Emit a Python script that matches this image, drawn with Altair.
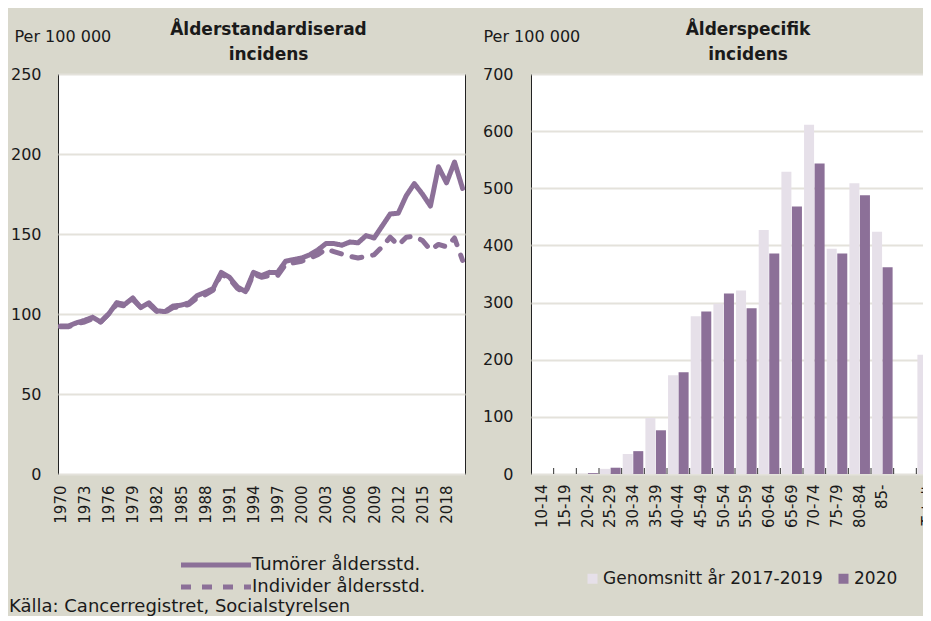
import altair as alt
import pandas as pd

# ---------------- data ----------------
years = list(range(1970, 2021))
tumorer = [92.5, 92.5, 94.5, 96, 98, 95, 100, 107, 106, 110,
           104, 107, 102, 101.5, 105, 105.5, 107, 111.5, 113.5, 116,
           126, 123, 117, 114, 126, 124, 126, 126, 133, 134,
           135, 137, 140, 144, 144, 143, 145, 144.5, 149, 147.5,
           155, 162.5, 163, 174, 181.5, 175, 167.5, 192, 182, 195,
           178.5]
individer = [92, 92, 94, 95, 97, 95, 100, 106, 105, 109,
             104, 106, 101.5, 101, 104, 104.5, 106, 110, 112, 115,
             125, 122, 116, 113, 125, 123, 124, 124, 131, 132,
             133, 135, 137, 140.5, 139, 137.5, 136, 135, 136, 137,
             142, 148, 143, 148, 148.5, 146, 140, 143.5, 142, 147.5,
             133.5]
year_labels = [1970, 1973, 1976, 1979, 1982, 1985, 1988, 1991, 1994, 1997,
               2000, 2003, 2006, 2009, 2012, 2015, 2018]
series_names = ["Tumörer åldersstd.", "Individer åldersstd."]

ages = ["10-14", "15-19", "20-24", "25-29", "30-34", "35-39", "40-44", "45-49",
        "50-54", "55-59", "60-64", "65-69", "70-74", "75-79", "80-84", "85-",
        " ", "Totalt"]
genomsnitt = [0, 0, 0.5, 9, 35, 98, 173, 276, 298, 321, 427, 529, 611, 394,
              509, 424, None, 208.5]
ar2020 = [0, 0, 1.5, 11, 40, 76.5, 178, 284.5, 316, 290, 386, 468, 543.5, 386,
          488, 362, None, 195]
period_names = ["Genomsnitt år 2017-2019", "2020"]

# ---------------- styling ----------------
FONT = "DejaVu Sans"
BG = "#D9D8CC"
PURPLE = "#8C7098"
LIGHT = "#E6E0E9"
GRID = "#E4E2DB"
TXT = "#1a1a1a"

# ---------------- left chart ----------------
rows = []
for y, t, i in zip(years, tumorer, individer):
    rows.append({"År": y, "Serie": series_names[0], "Värde": t})
    rows.append({"År": y, "Serie": series_names[1], "Värde": i})
df_left = pd.DataFrame(rows)

left = alt.Chart(df_left).mark_line(strokeWidth=5, color=PURPLE, strokeCap="round",
                                    strokeJoin="round").encode(
    x=alt.X("År:O", scale=alt.Scale(type="point", padding=0.3),
            axis=alt.Axis(values=year_labels, labelAngle=-90, title=None, ticks=False,
                          domain=False, labelPadding=11, labelFontSize=15,
                          labelColor=TXT, labelFont=FONT)),
    y=alt.Y("Värde:Q", scale=alt.Scale(domain=[0, 250]),
            axis=alt.Axis(values=[0, 50, 100, 150, 200, 250], title="Per 100 000",
                          titleAngle=0, titleAlign="left", titleBaseline="middle",
                          titleX=-44, titleY=-38, titleFontWeight="normal",
                          titleFontSize=16, titleFont=FONT, titleColor=TXT,
                          grid=True, gridColor=GRID, gridWidth=2, ticks=False,
                          domain=False, labelPadding=17, labelFontSize=16,
                          labelColor=TXT, labelFont=FONT)),
    strokeDash=alt.StrokeDash("Serie:N",
                              scale=alt.Scale(domain=series_names, range=[[1, 0], [10, 11]]),
                              legend=alt.Legend(orient="none", legendX=149, legendY=482,
                                                title=None, symbolType="M-7,0L7,0",
                                                symbolSize=100, symbolStrokeWidth=5,
                                                symbolStrokeColor=PURPLE,
                                                labelFontSize=18, labelFont=FONT,
                                                labelColor=TXT, rowPadding=2,
                                                labelOffset=27, labelLimit=300)),
).properties(
    width=407, height=400,
    title=alt.TitleParams(["Ålderstandardiserad", "incidens"], fontSize=17,
                          fontWeight="bold", font=FONT, color=TXT, lineHeight=25,
                          anchor="middle", frame="group", dx=7, dy=40),
)

# ---------------- right chart ----------------
brow = []
for a, g, v in zip(ages, genomsnitt, ar2020):
    if g is not None:
        brow.append({"Ålder": a, "Period": period_names[0], "Värde": g})
    if v is not None:
        brow.append({"Ålder": a, "Period": period_names[1], "Värde": v})
df_right = pd.DataFrame(brow)
df_ticks = pd.DataFrame({"Ålder": ages[1:]})

xscale = alt.Scale(domain=ages, paddingInner=0, paddingOuter=0)

bars = alt.Chart(df_right).mark_bar().encode(
    x=alt.X("Ålder:N", scale=xscale,
            axis=alt.Axis(labelAngle=-90, title=None, ticks=False, domain=False,
                          labelPadding=10, labelFontSize=15, labelColor=TXT,
                          labelFont=FONT)),
    xOffset=alt.XOffset("Period:N", sort=period_names,
                        scale=alt.Scale(domain=period_names, paddingOuter=0.1,
                                        paddingInner=0.05)),
    y=alt.Y("Värde:Q", scale=alt.Scale(domain=[0, 700]),
            axis=alt.Axis(values=[0, 100, 200, 300, 400, 500, 600, 700],
                          title="Per 100 000", titleAngle=0, titleAlign="left",
                          titleBaseline="middle", titleX=-48, titleY=-38,
                          titleFontWeight="normal", titleFontSize=16, titleFont=FONT,
                          titleColor=TXT, grid=True, gridColor=GRID, gridWidth=2,
                          ticks=False, domain=False, labelPadding=18,
                          labelFontSize=16, labelColor=TXT, labelFont=FONT)),
    color=alt.Color("Period:N", scale=alt.Scale(domain=period_names, range=[LIGHT, PURPLE]),
                    legend=alt.Legend(orient="none", legendX=526, legendY=496,
                                      direction="horizontal", title=None,
                                      symbolType="square", symbolSize=100,
                                      symbolStrokeWidth=0, labelFontSize=17,
                                      labelFont=FONT, labelColor=TXT,
                                      columnPadding=12, labelOffset=2,
                                      labelLimit=300)),
)

ticks = alt.Chart(df_ticks).mark_rule(color="#333", strokeWidth=1).encode(
    x=alt.X("Ålder:N", scale=xscale, bandPosition=0),
    y=alt.value(400), y2=alt.value(394),
)

right = alt.layer(bars, ticks).properties(
    width=408, height=400,
    title=alt.TitleParams(["Ålderspecifik", "incidens"], fontSize=17,
                          fontWeight="bold", font=FONT, color=TXT, lineHeight=25,
                          anchor="middle", frame="group", dx=13, dy=40),
)

chart = alt.hconcat(left, right, spacing=15).properties(
    title=alt.TitleParams("Källa: Cancerregistret, Socialstyrelsen", orient="bottom",
                          anchor="start", fontSize=18, fontWeight="normal",
                          font=FONT, color=TXT, offset=1, dx=-1),
    padding={"left": 0, "top": 12, "right": -17, "bottom": 0},
).configure(
    background=BG,
).configure_view(
    stroke="#222", strokeWidth=1, fill="white",
).configure_axis(
    labelFont=FONT, titleFont=FONT,
)

chart.save("out.html", embed_options={"renderer": "svg", "actions": False})
